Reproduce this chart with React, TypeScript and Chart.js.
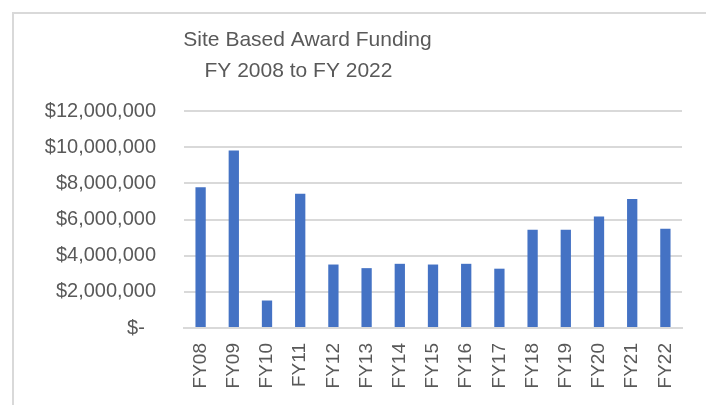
import React, { useEffect, useRef } from "react";
import { Chart, registerables } from "chart.js";

Chart.register(...registerables);

const categories = ["FY08", "FY09", "FY10", "FY11", "FY12", "FY13", "FY14", "FY15", "FY16", "FY17", "FY18", "FY19", "FY20", "FY21", "FY22"];
const funding = [7790000, 9810000, 1520000, 7420000, 3510000, 3310000, 3550000, 3510000, 3550000, 3280000, 5430000, 5430000, 6170000, 7130000, 5490000];
const titleLines = ["Site Based Award Funding", "FY 2008 to FY 2022"];
const yMin = 0;
const yMax = 12000000;
const yStep = 2000000;

const FONT = '"Liberation Sans", Arial, sans-serif';
const TEXT = "#595959";
const GRID = "#d9d9d9";

const titlePlugin = {
  id: "excelTitle",
  afterDraw(chart: any) {
    const ctx = chart.ctx;
    ctx.save();
    ctx.fillStyle = TEXT;
    ctx.font = `21px ${FONT}`;
    ctx.textAlign = "center";
    ctx.textBaseline = "alphabetic";
    ctx.fillText(titleLines[0], 307.5, 46);
    ctx.fillText(titleLines[1], 298.5, 77);
    ctx.restore();
  },
};

export default function App() {
  const ref = useRef<HTMLCanvasElement>(null);
  useEffect(() => {
    const chart = new Chart(ref.current!, {
      type: "bar",
      data: {
        labels: categories,
        datasets: [
          {
            data: funding,
            backgroundColor: "#4472C4",
            barPercentage: 0.31,
            categoryPercentage: 1,
          },
        ],
      },
      options: {
        animation: false,
        responsive: false,
        maintainAspectRatio: false,
        layout: { padding: { top: 111, right: 24, left: 0, bottom: 0 } },
        plugins: { legend: { display: false }, title: { display: false }, tooltip: { enabled: false } },
        scales: {
          x: {
            grid: { display: false, drawTicks: false },
            border: { display: true, color: GRID, width: 2 },
            ticks: {
              minRotation: 90,
              maxRotation: 90,
              autoSkip: false,
              padding: 15,
              color: TEXT,
              font: { family: FONT, size: 19 },
            },
            afterFit: (s: any) => {
              s.height = 77;
            },
          },
          y: {
            min: yMin,
            max: yMax,
            grid: { color: GRID, lineWidth: 2, drawTicks: false },
            border: { display: false },
            ticks: {
              stepSize: yStep,
              padding: 28,
              color: TEXT,
              font: { family: FONT, size: 20 },
              callback: (v: any) => (Number(v) === 0 ? "$-  " : "$" + Number(v).toLocaleString("en-US")),
            },
            afterFit: (s: any) => {
              s.width = 184;
            },
          },
        },
      },
      plugins: [titlePlugin],
    });
    return () => chart.destroy();
  }, []);
  return (
    <div style={{ position: "fixed", left: 0, top: 0, width: 706, height: 405, overflow: "hidden", background: "#fff" }}>
      <div
        style={{
          position: "absolute",
          left: 12,
          top: 12,
          width: 900,
          height: 600,
          borderTop: `2px solid ${GRID}`,
          borderLeft: `2px solid ${GRID}`,
        }}
      />
      <canvas ref={ref} width={706} height={405} style={{ position: "absolute", left: 0, top: 0, width: 706, height: 405 }} />
    </div>
  );
}
